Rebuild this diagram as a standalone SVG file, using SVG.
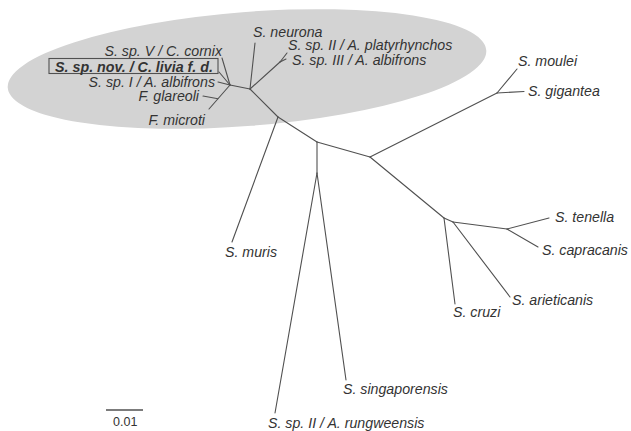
<svg xmlns="http://www.w3.org/2000/svg" width="631" height="431" viewBox="0 0 631 431">
<style>
.br{stroke:#505050;stroke-width:1.1;fill:none;stroke-linecap:round}
.lb{font-family:"Liberation Sans",Arial,sans-serif;font-size:14.2px;font-style:italic;fill:#333}
.up{font-style:normal}
.bd{font-weight:bold}
</style>
<rect width="631" height="431" fill="#fff"/>
<ellipse id="clade" cx="247" cy="69" rx="240" ry="57" transform="rotate(-4.5 247 69)" fill="#d3d3d3"/>
<g id="connectors">
<line class="br" x1="230" y1="85" x2="250" y2="89"/>
<line class="br" x1="230" y1="85" x2="222" y2="58"/>
<line class="br" x1="230" y1="85" x2="219" y2="72"/>
<line class="br" x1="230" y1="85" x2="218" y2="82"/>
<line class="br" x1="230" y1="85" x2="209" y2="109"/>
<line class="br" x1="218" y1="98.7" x2="203" y2="96"/>
<line class="br" x1="250" y1="89" x2="255" y2="43"/>
<line class="br" x1="250" y1="89" x2="280" y2="62"/>
<line class="br" x1="280" y1="62" x2="287" y2="53"/>
<line class="br" x1="280" y1="62" x2="286" y2="59"/>
<line class="br" x1="250" y1="89" x2="278" y2="117"/>
<line class="br" x1="278" y1="117" x2="232" y2="242"/>
<line class="br" x1="278" y1="117" x2="317" y2="142"/>
<line class="br" x1="317" y1="142" x2="317" y2="173"/>
<line class="br" x1="317" y1="173" x2="275" y2="413"/>
<line class="br" x1="317" y1="173" x2="346" y2="380"/>
<line class="br" x1="317" y1="142" x2="370" y2="157"/>
<line class="br" x1="370" y1="157" x2="497" y2="93"/>
<line class="br" x1="497" y1="93" x2="517" y2="69"/>
<line class="br" x1="497" y1="93" x2="524" y2="91.5"/>
<line class="br" x1="370" y1="157" x2="444" y2="218"/>
<line class="br" x1="444" y1="218" x2="455" y2="304"/>
<line class="br" x1="444" y1="218" x2="453" y2="222"/>
<line class="br" x1="453" y1="222" x2="510" y2="297"/>
<line class="br" x1="453" y1="222" x2="507" y2="229"/>
<line class="br" x1="507" y1="229" x2="549" y2="218"/>
<line class="br" x1="507" y1="229" x2="538" y2="247"/>
</g>
<g id="n-cornix"><text class="lb" x="222" y="56" text-anchor="end">S. sp. V / C. cornix</text></g>
<g id="n-livia"><rect x="49" y="58.5" width="169" height="15" fill="none" stroke="#505050" stroke-width="1.1"/><text class="lb bd" x="55" y="71.5" textLength="158" lengthAdjust="spacingAndGlyphs">S. sp. nov. / C. livia f. d.</text></g>
<g id="n-albifrons1"><text class="lb" x="215" y="86.5" text-anchor="end">S. sp. I / A. albifrons</text></g>
<g id="n-glareoli"><text class="lb" x="199" y="101" text-anchor="end">F. glareoli</text></g>
<g id="n-microti"><text class="lb" x="205" y="125" text-anchor="end">F. microti</text></g>
<g id="n-neurona"><text class="lb" x="253" y="37">S. neurona</text></g>
<g id="n-platy"><text class="lb" x="288" y="50">S. sp. II / A. platyrhynchos</text></g>
<g id="n-albifrons3"><text class="lb" x="292" y="64.5">S. sp. III / A. albifrons</text></g>
<g id="n-moulei"><text class="lb" x="518" y="66">S. moulei</text></g>
<g id="n-gigantea"><text class="lb" x="528" y="96">S. gigantea</text></g>
<g id="n-tenella"><text class="lb" x="555" y="222">S. tenella</text></g>
<g id="n-capracanis"><text class="lb" x="542" y="255">S. capracanis</text></g>
<g id="n-arieticanis"><text class="lb" x="512" y="305">S. arieticanis</text></g>
<g id="n-cruzi"><text class="lb" x="453" y="317">S. cruzi</text></g>
<g id="n-muris"><text class="lb" x="225" y="257">S. muris</text></g>
<g id="n-singaporensis"><text class="lb" x="343" y="394">S. singaporensis</text></g>
<g id="n-rungweensis"><text class="lb" x="268" y="428">S. sp. II / A. rungweensis</text></g>
<g id="scale"><line x1="106" y1="410" x2="143" y2="410" stroke="#505050" stroke-width="1.6"/><text class="lb up" x="113" y="426" style="font-size:12.5px">0.01</text></g>
</svg>
